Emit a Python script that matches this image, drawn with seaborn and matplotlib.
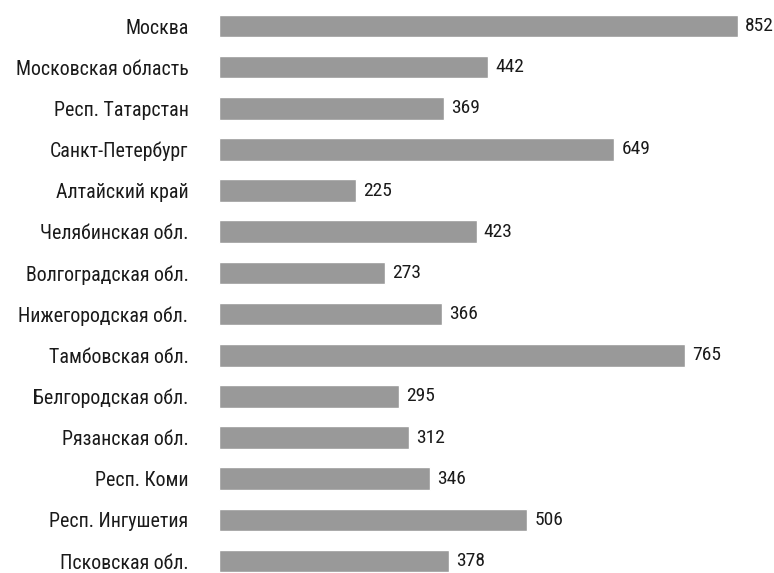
import matplotlib
matplotlib.use("Agg")
import matplotlib.pyplot as plt
import seaborn as sns
import pandas as pd

regions = [
    "Москва", "Московская область", "Респ. Татарстан", "Санкт-Петербург",
    "Алтайский край", "Челябинская обл.", "Волгоградская обл.",
    "Нижегородская обл.", "Тамбовская обл.", "Белгородская обл.",
    "Рязанская обл.", "Респ. Коми", "Респ. Ингушетия", "Псковская обл.",
]
values = [852, 442, 369, 649, 225, 423, 273, 366, 765, 295, 312, 346, 506, 378]

df = pd.DataFrame({"region": regions, "value": values})

sns.set_theme(style="white")
plt.rcParams["font.family"] = ["Roboto Condensed", "DejaVu Sans"]

fig = plt.figure(figsize=(7.74, 5.73), dpi=100)
ax = fig.add_axes([0.283, 0.0, 0.717, 1.0])

sns.barplot(data=df, x="value", y="region", orient="h", color="#999999",
            saturation=1, width=0.55, ax=ax)

ax.set_xlim(0, 911)
ax.set_ylim(13.29, -0.632)
ax.set_xlabel("")
ax.set_ylabel("")
ax.set_xticks([])
sns.despine(ax=ax, left=True, bottom=True)
ax.tick_params(axis="y", length=0, pad=22, labelsize=14.3, labelcolor="#1a1a1a")

for i, v in enumerate(values):
    ax.annotate(str(v), xy=(v, i), xytext=(5, 0), textcoords="offset points",
                va="center", ha="left", fontsize=14, color="#1a1a1a",
                annotation_clip=False)

fig.savefig("out.png", dpi=100)
